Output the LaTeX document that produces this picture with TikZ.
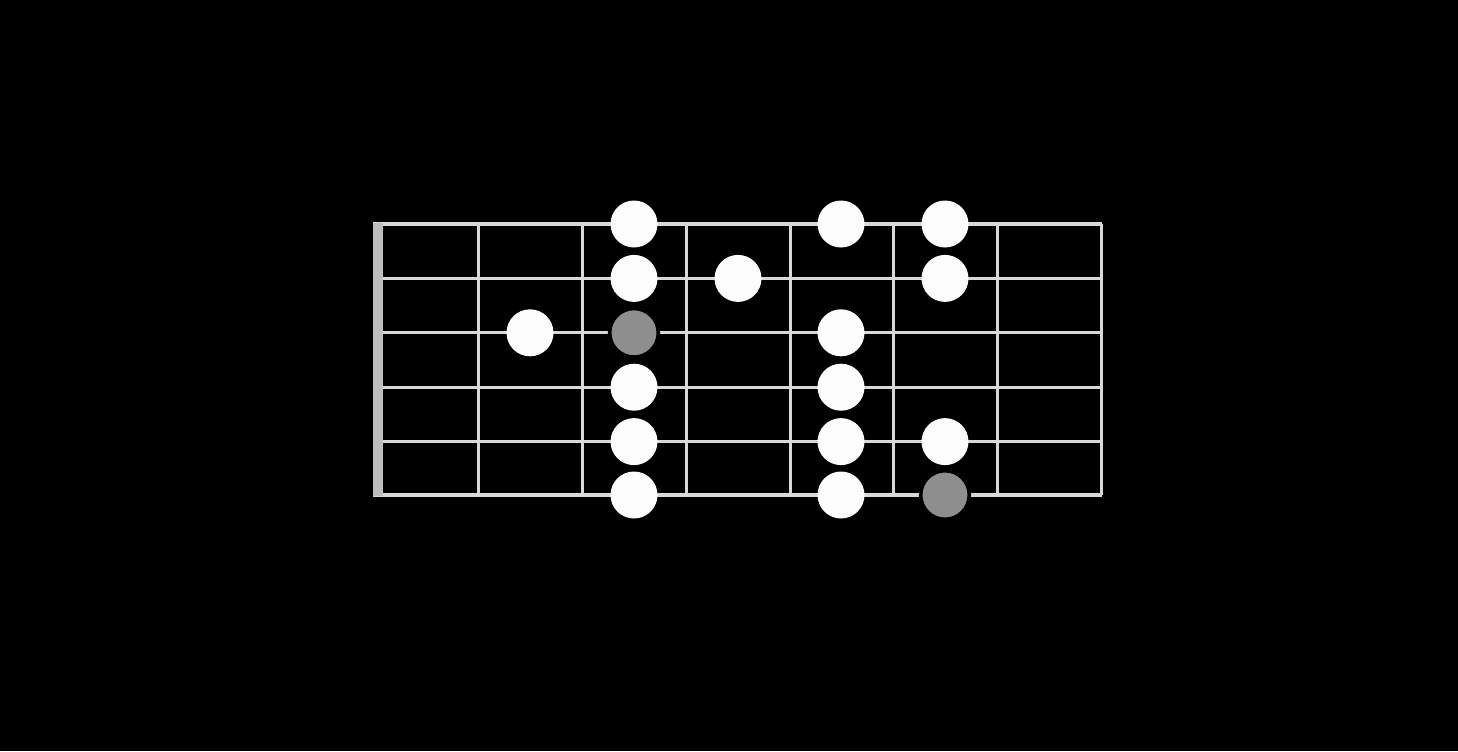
\documentclass[tikz,border=0pt]{standalone}
\begin{document}
\begin{tikzpicture}[x=0.5pt,y=-0.5pt,
  stringline/.style={draw=strcol,line width=1.6pt},
  fretline/.style={draw=strcol,line width=1.5pt},
  wdot/.style={circle,fill=dotwhite,minimum size=23.5pt,inner sep=0pt,draw=none},
  gdot/.style={circle,fill=dotgray,minimum size=24.3pt,inner sep=0pt,draw=black,line width=1.8pt}]
\definecolor{strcol}{HTML}{D8D8D8}
\definecolor{nutcol}{HTML}{BDBDBD}
\definecolor{dotwhite}{HTML}{FDFDFD}
\definecolor{dotgray}{HTML}{8E8E8E}
\fill[black] (0,0) rectangle (1458,751);
\useasboundingbox (0,0) rectangle (1458,751);
% frets
\foreach \x in {478,582,686,790,893,997,1101}
  \draw[fretline] (\x,224) -- (\x,495);
% strings
\foreach \y in {224,278.4,332.8,387.2,441.6,495}
  \draw[stringline] (373,\y) -- (1101.7,\y);
% nut
\fill[nutcol] (373,223) rectangle (383,496);
% dots
\node[wdot] (d11) at (634,224) {};
\node[wdot] (d12) at (841,224) {};
\node[wdot] (d13) at (945,224) {};
\node[wdot] (d21) at (634,278.4) {};
\node[wdot] (d22) at (738,278.4) {};
\node[wdot] (d23) at (945,278.4) {};
\node[wdot] (d31) at (530,332.8) {};
\node[gdot] (d32) at (634,332.8) {};
\node[wdot] (d33) at (841,332.8) {};
\node[wdot] (d41) at (634,387.2) {};
\node[wdot] (d42) at (841,387.2) {};
\node[wdot] (d51) at (634,441.6) {};
\node[wdot] (d52) at (841,441.6) {};
\node[wdot] (d53) at (945,441.6) {};
\node[wdot] (d61) at (634,495) {};
\node[wdot] (d62) at (841,495) {};
\node[gdot] (d63) at (945,495) {};
\end{tikzpicture}
\end{document}
